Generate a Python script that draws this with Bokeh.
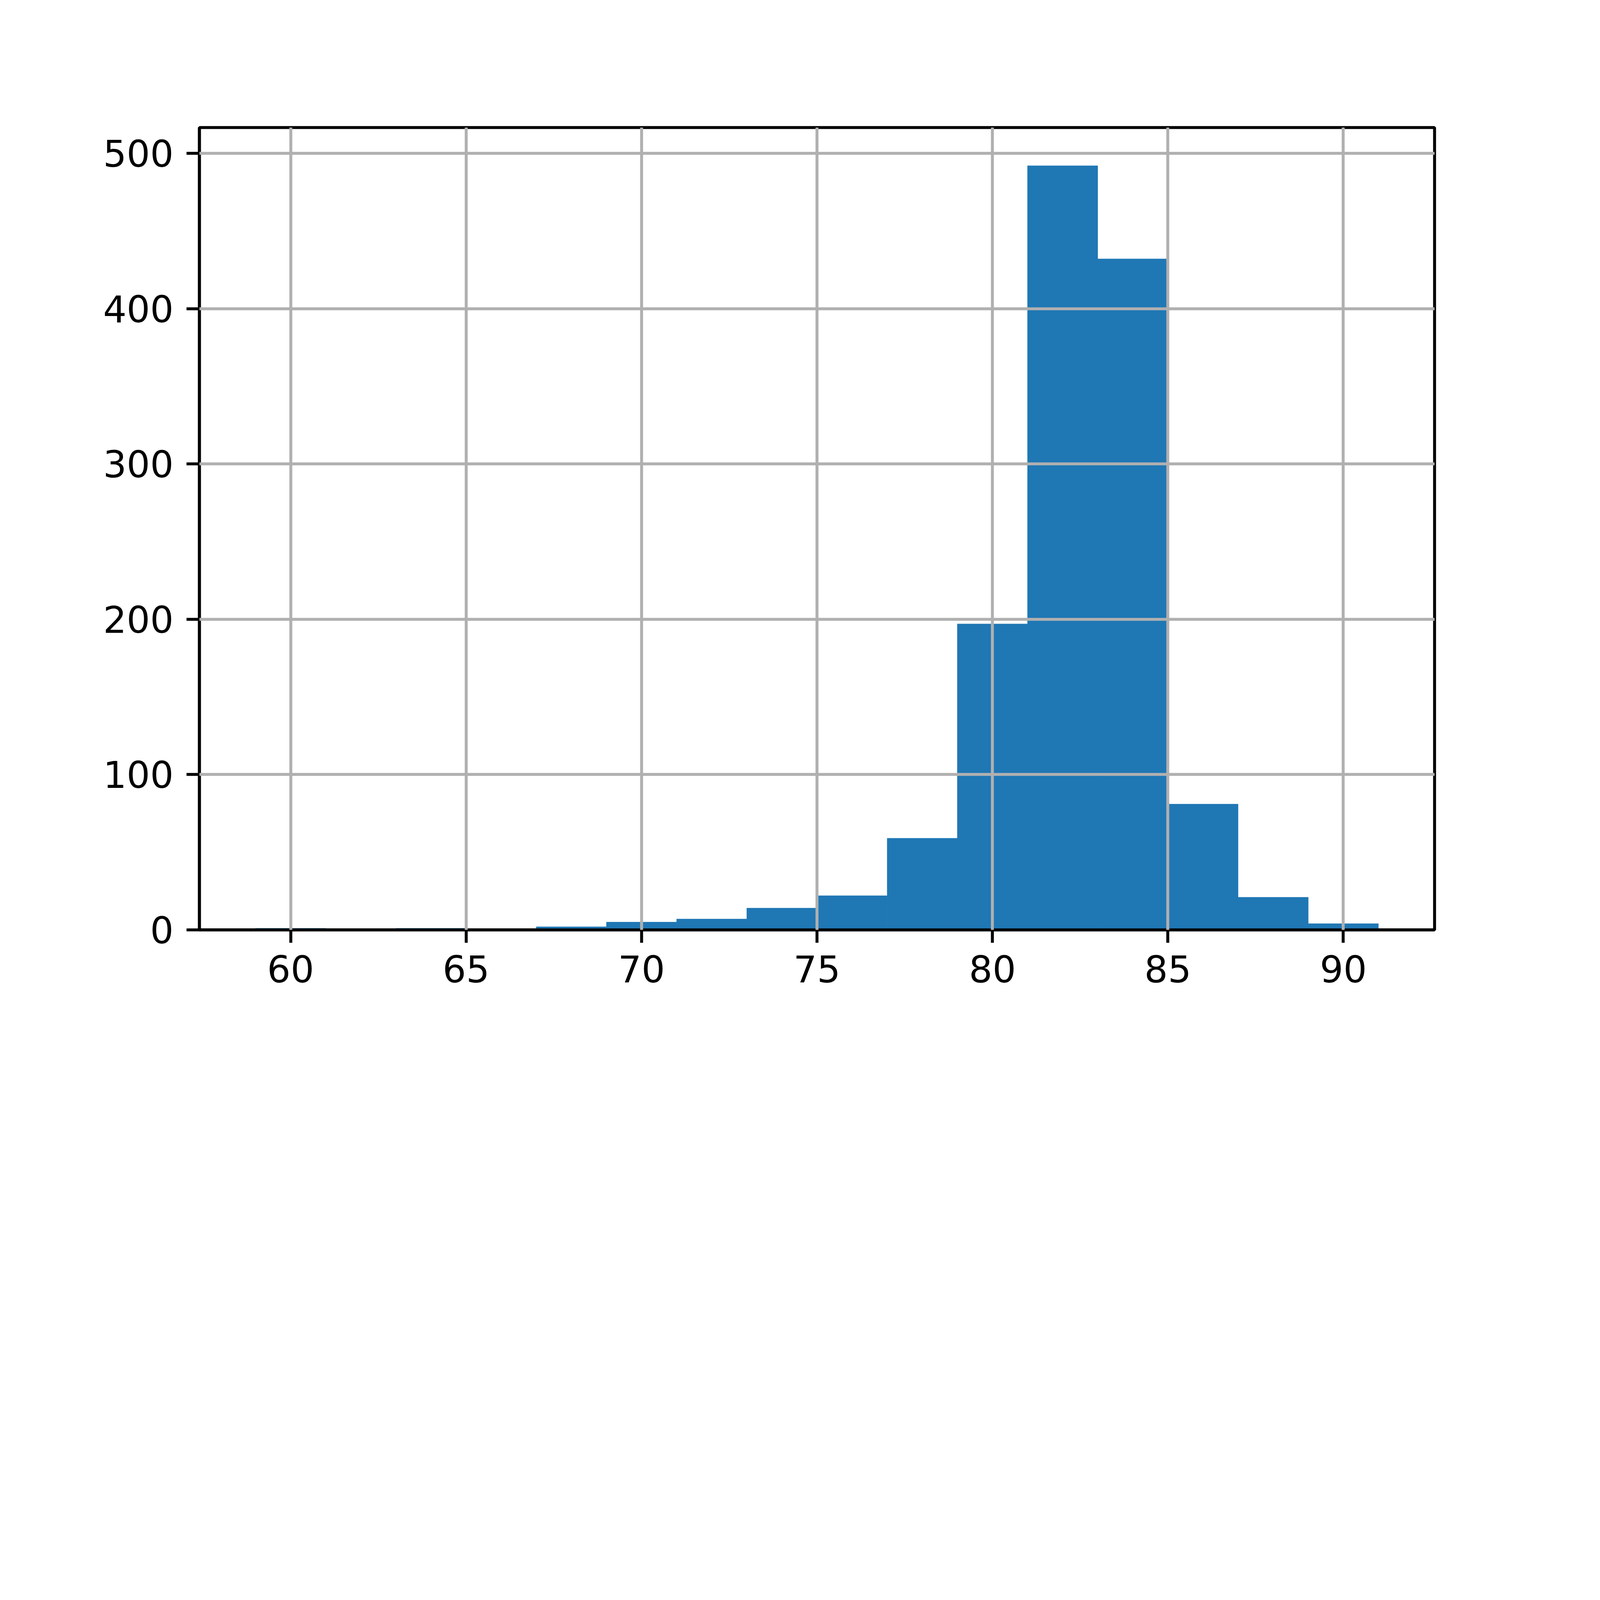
from bokeh.plotting import figure
from bokeh.models import FixedTicker, Range1d
from bokeh.embed import file_html
from bokeh.resources import INLINE

# Histogram data (bin edges and counts)
bin_edges = [59, 61, 63, 65, 67, 69, 71, 73, 75, 77, 79, 81, 83, 85, 87, 89, 91]
counts = [1, 0, 1, 0, 2, 5, 7, 14, 22, 59, 197, 492, 432, 81, 21, 4]
x_ticks = [60, 65, 70, 75, 80, 85, 90]
y_ticks = [0, 100, 200, 300, 400, 500]

# the captured page area is 4096 px wide: scale the 7200x4800 layout to fit
S = 4080 / 7200

span = bin_edges[-1] - bin_edges[0]
x_lo = bin_edges[0] - 0.05 * span
x_hi = bin_edges[-1] + 0.05 * span
y_hi = max(counts) * 1.05

LW = 13.33 * S
FONT = "DejaVu Sans"
FS = "%.1fpx" % (167 * S)
BAR = "#1f77b4"

W = 4080
H = 2720
p = figure(
    width=W, height=H,
    output_backend="svg", toolbar_location=None,
    x_range=Range1d(x_lo, x_hi), y_range=Range1d(0, y_hi),
    min_border_left=round(900 * S), min_border_right=W - round(6480 * S),
    min_border_top=round(576 * S), min_border_bottom=H - round(4200 * S),
    background_fill_color="white", border_fill_color="white",
)

p.quad(left=bin_edges[:-1], right=bin_edges[1:], bottom=0, top=counts,
       fill_color=BAR, line_color=BAR, line_width=0.8)

p.outline_line_color = "black"
p.outline_line_width = LW

p.xaxis.ticker = FixedTicker(ticks=x_ticks)
p.yaxis.ticker = FixedTicker(ticks=y_ticks)

for ax in (p.xaxis[0], p.yaxis[0]):
    ax.axis_line_color = "black"
    ax.axis_line_width = LW
    ax.major_tick_line_color = "black"
    ax.major_tick_line_width = LW
    ax.major_tick_out = round(58 * S)
    ax.major_tick_in = 0
    ax.minor_tick_line_color = None
    ax.major_label_text_font = FONT
    ax.major_label_text_font_size = FS
    ax.major_label_text_color = "black"

p.yaxis.major_label_standoff = round(58 * S)
p.xaxis.major_label_standoff = round(56 * S)

for g, t in ((p.xgrid[0], x_ticks), (p.ygrid[0], y_ticks)):
    g.ticker = FixedTicker(ticks=t)
    g.grid_line_color = "#b0b0b0"
    g.grid_line_width = LW
    g.level = "overlay"

open("out.html", "w").write(file_html(p, INLINE))
